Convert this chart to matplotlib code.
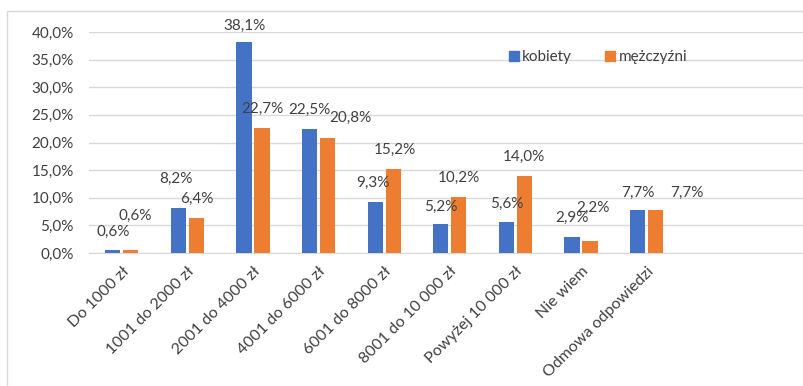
import numpy as np
import matplotlib
matplotlib.use('Agg')
import matplotlib.pyplot as plt
from matplotlib.ticker import FuncFormatter, MultipleLocator
from matplotlib.patches import Rectangle
from matplotlib.lines import Line2D

plt.rcParams['font.family'] = ['Lato', 'DejaVu Sans']

# dane
kategorie = ['Do 1000 zł', '1001 do 2000 zł', '2001 do 4000 zł', '4001 do 6000 zł',
             '6001 do 8000 zł', '8001 do 10 000 zł', 'Powyżej 10 000 zł',
             'Nie wiem', 'Odmowa odpowiedzi']
kobiety = [0.6, 8.2, 38.1, 22.5, 9.3, 5.2, 5.6, 2.9, 7.7]
mezczyzni = [0.6, 6.4, 22.7, 20.8, 15.2, 10.2, 14.0, 2.2, 7.7]
serie = ['kobiety', 'mężczyźni']

BLUE = '#4472C4'
ORANGE = '#ED7D31'
TXT = '#404040'
FS = 11

# przesunięcia etykiet (px), jak w oryginale
off_k = [(0, 18), (-2, 29), (0, 17), (0, 19), (-2, 19), (0, 17), (0, 18), (0, 19), (0, 18)]
off_m = [(4, 34), (0, 19), (0, 19), (23, 20), (2, 19), (0, 19), (0, 19), (3, 33), (31, 18)]


def pl(v):
    return f'{v:.1f}%'.replace('.', ',')


fig = plt.figure(figsize=(8.04, 3.86), dpi=100)
fig.patches.append(Rectangle((7 / 804, -0.1), 1.1, 1 - 11 / 386 + 0.1, transform=fig.transFigure,
                             fill=False, edgecolor='#D9D9D9', lw=1))
ax = fig.add_axes([89 / 804, 1 - 253 / 386, 1 - 89 / 804, (253 - 32) / 386])

x = np.arange(len(kategorie))
w = 0.23
d = 0.137
bk = ax.bar(x - d, kobiety, w, color=BLUE, zorder=3)
bm = ax.bar(x + d, mezczyzni, w, color=ORANGE, zorder=3)

for bars, vals, offs in ((bk, kobiety, off_k), (bm, mezczyzni, off_m)):
    for b, v, o in zip(bars, vals, offs):
        ax.annotate(pl(v), (b.get_x() + b.get_width() / 2, v), xytext=o,
                    textcoords='offset pixels', ha='center', va='center',
                    fontsize=FS, color=TXT, annotation_clip=False)

ax.set_ylim(0, 40)
ax.set_xlim(-0.5, 10.4)
ax.yaxis.set_major_locator(MultipleLocator(5))
ax.yaxis.set_major_formatter(FuncFormatter(lambda v, p: pl(v)))
ax.grid(axis='y', color='#D9D9D9', lw=1, zorder=0)
for s in ['top', 'right', 'left']:
    ax.spines[s].set_visible(False)
ax.spines['bottom'].set_color('#D9D9D9')
ax.tick_params(axis='y', length=0, pad=11, labelsize=FS, labelcolor=TXT)
ax.tick_params(axis='x', length=0, pad=8)
ax.set_xticks(x)
ax.set_xticklabels(kategorie, rotation=45, ha='right', rotation_mode='anchor',
                   fontsize=11.5, color=TXT)

handles = [Line2D([], [], marker='s', ls='', color=c, markersize=7) for c in (BLUE, ORANGE)]
ax.legend(handles, serie, loc='center', bbox_to_anchor=(0.71, 0.887), ncol=2, frameon=False,
          fontsize=FS, handletextpad=0.05, handlelength=1.0, columnspacing=2.0, labelcolor=TXT)

fig.savefig('out.png', dpi=100)
